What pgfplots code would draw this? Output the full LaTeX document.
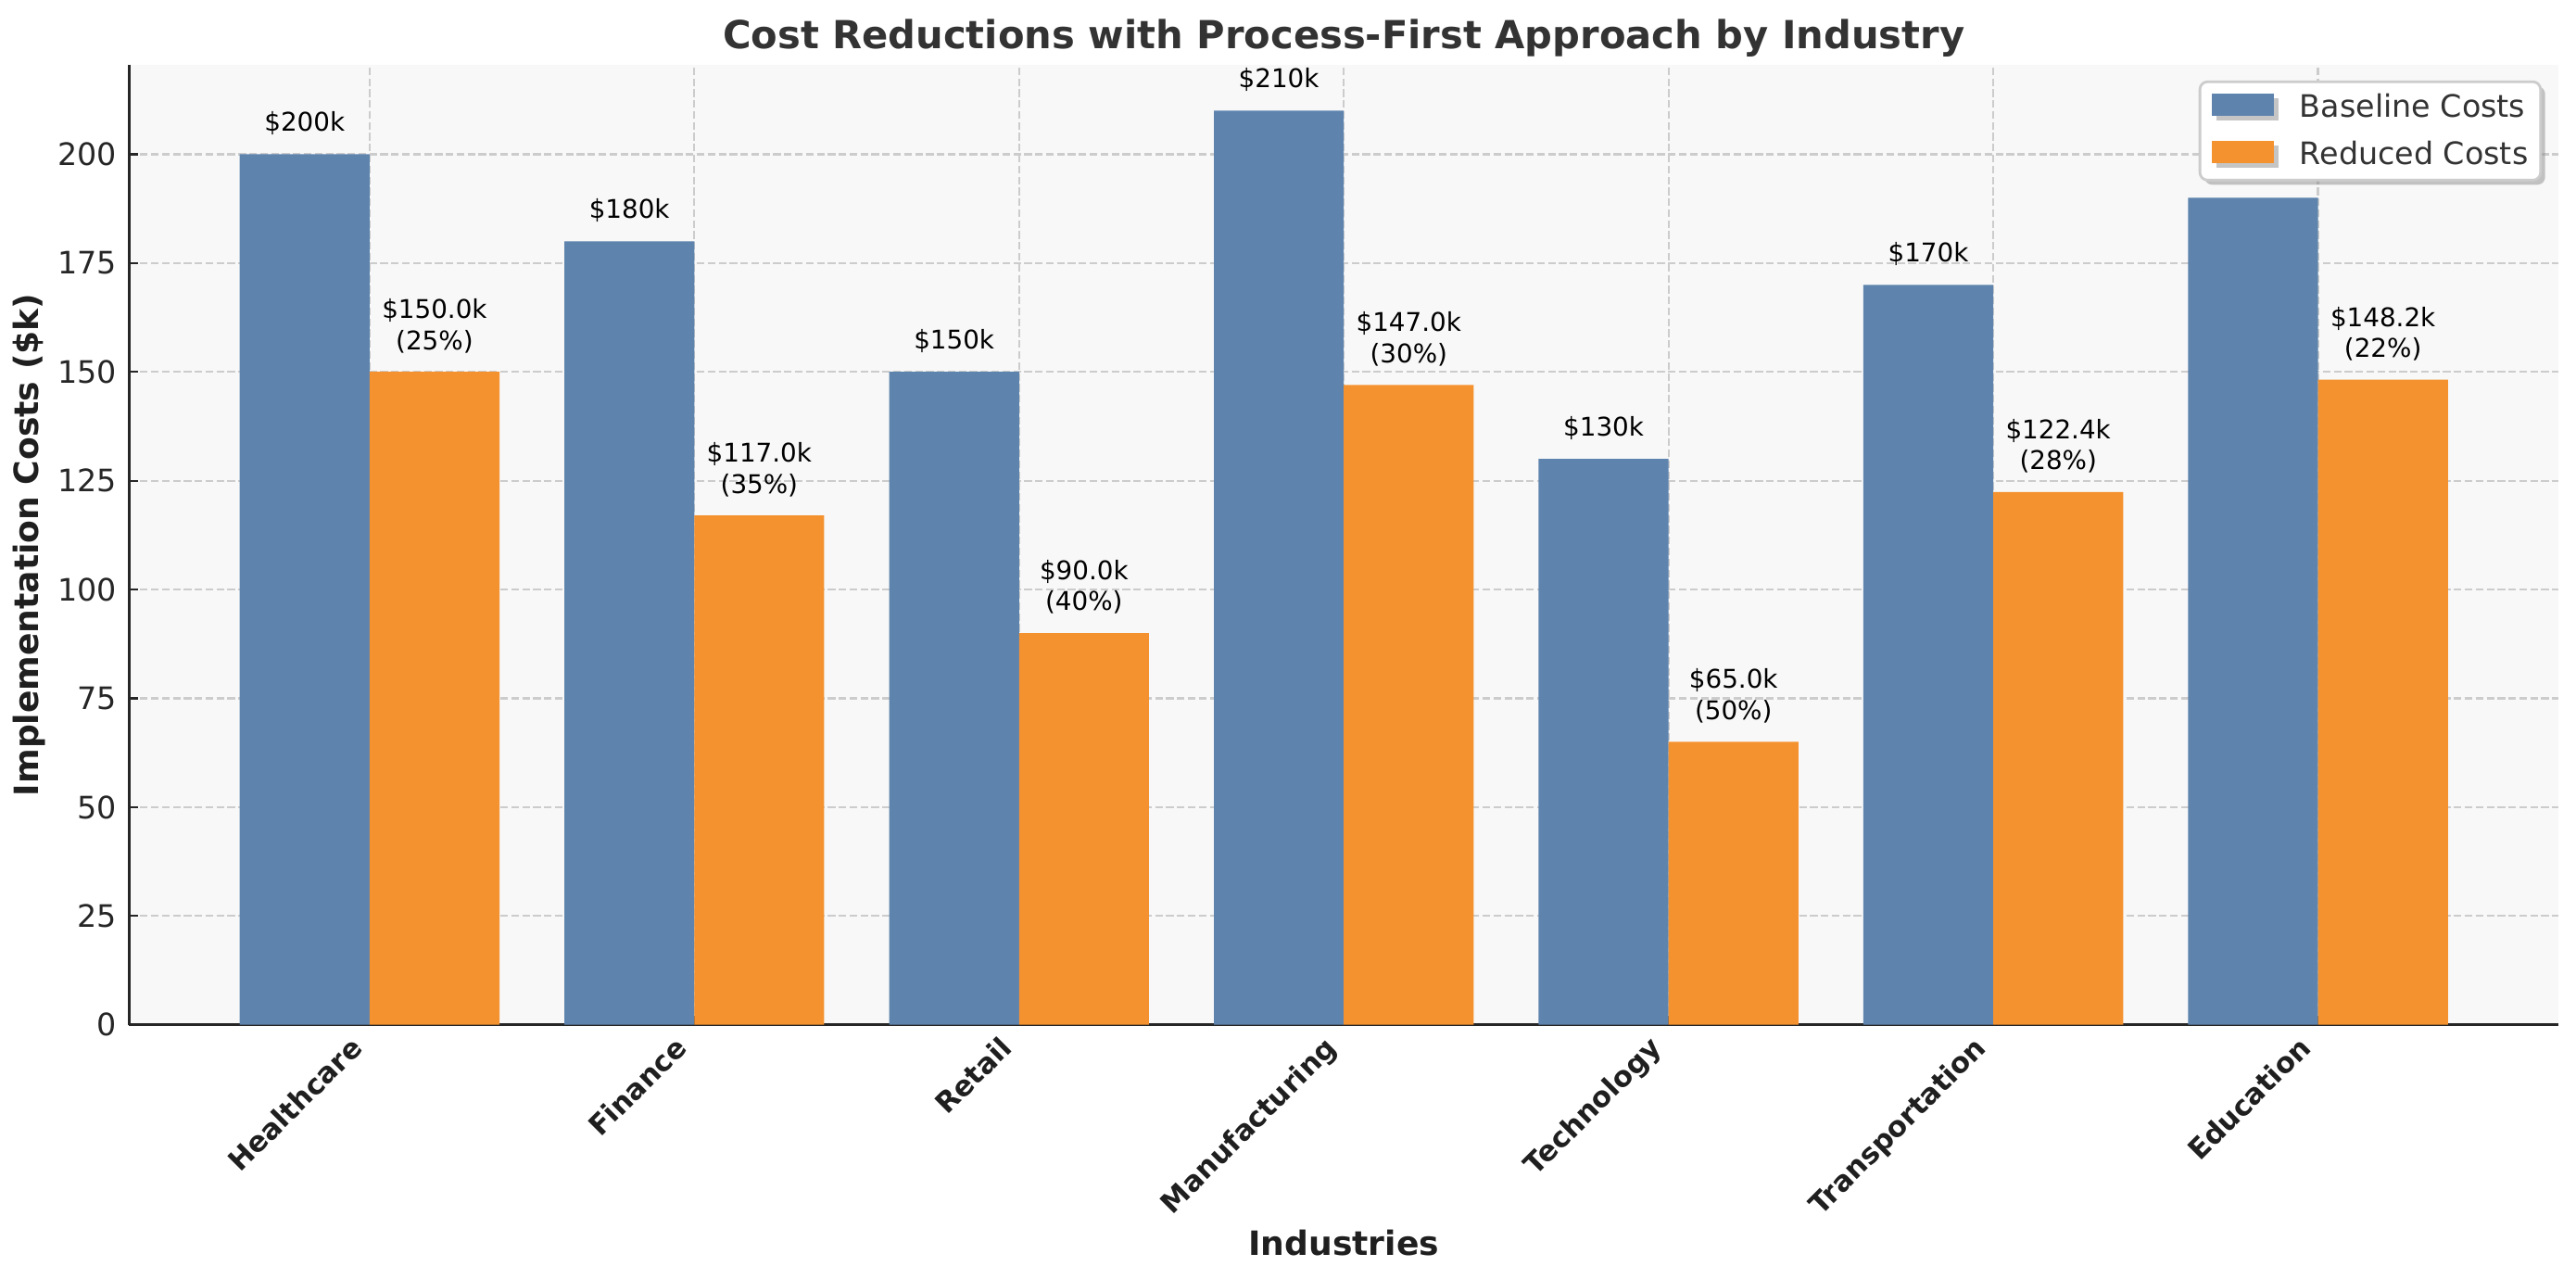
\documentclass[border=0pt]{standalone}
\usepackage{pgfplots}
\pgfplotsset{compat=1.18}
\usepackage{fontspec}
\setmainfont{DejaVu Sans}
\usetikzlibrary{shadows}
\definecolor{cblue}{HTML}{5E84AE}
\definecolor{corange}{HTML}{F59230}
\definecolor{bgc}{HTML}{F8F8F8}
\definecolor{gridc}{HTML}{CCCCCC}
\definecolor{spine}{HTML}{262626}
\definecolor{titlec}{HTML}{333333}
\definecolor{labc}{HTML}{1F1F1F}
\begin{document}
\begin{tikzpicture}
\begin{axis}[
  at={(50.22pt,98.74pt)}, anchor=south west,
  width=943.7pt, height=372.8pt, scale only axis,
  xmin=-0.74, xmax=6.74, ymin=0, ymax=220.5,
  enlargelimits=false,
  axis x line*=bottom, axis y line*=left,
  axis line style={spine, line width=0.9pt, -},
  axis background/.style={fill=bgc},
  xtick={0,1,2,3,4,5,6},
  xticklabels={Healthcare,Finance,Retail,Manufacturing,Technology,Transportation,Education},
  ytick={0,25,50,75,100,125,150,175,200},
  /pgf/number format/assume math mode=true,
  grid=major,
  major grid style={gridc, line width=0.8pt, dash pattern=on 2.96pt off 1.28pt},
  tick align=inside, major tick length=3.5pt,
  tick style={spine, line width=0.8pt},
  yticklabel style={font=\fontsize{12}{14}\selectfont, text=spine, anchor=east, inner sep=0pt, xshift=-4.6pt},
  xticklabel style={font=\fontsize{11}{13}\selectfont\bfseries, text=labc, inner sep=0pt, xshift=-2.05pt, yshift=-9.6pt, rotate=45, anchor=base east},
  title={Cost Reductions with Process-First Approach by Industry},
  title style={at={(axis description cs:0.5,1)}, anchor=base, yshift=0.2pt, font=\fontsize{15}{18}\selectfont\bfseries, text=titlec},
  xlabel={Industries},
  xlabel style={at={(axis description cs:0.5,0)}, anchor=base, yshift=-89.4pt, font=\fontsize{13}{15}\selectfont\bfseries, text=labc},
  ylabel={Implementation Costs (\$k)},
  ylabel style={at={([xshift=-35.2pt]axis description cs:0,0.5)}, anchor=base, font=\fontsize{13}{15}\selectfont\bfseries, text=labc},
  legend cell align=left,
  legend style={at={(1,1)}, anchor=north east, xshift=-6.4pt, yshift=-6pt,
    draw=gridc, line width=1pt, rounded corners=3pt, fill=white,
    drop shadow={shadow xshift=1.8pt, shadow yshift=-1.8pt, fill=black!45},
    font=\fontsize{12}{14}\selectfont, text=titlec,
    inner xsep=4.8pt, inner ysep=4.5pt, row sep=7.6pt,
    /tikz/every odd column/.append style={column sep=10.2pt},
    nodes={inner sep=0pt}},
  every node near coord/.append style={font=\fontsize{10}{12}\selectfont, text=black, anchor=south, inner sep=0pt, yshift=7.2pt, align=center},
  clip=false,
]
\addplot[ybar, fill=cblue, draw=none, bar width=0.4, bar shift=0pt,
  legend image code/.code={\fill[cblue, sharp corners] (0pt,-3.1pt) rectangle (23.8pt,5.5pt);},
  nodes near coords, point meta=explicit symbolic]
  coordinates {
  (-0.2,200) [\$200k]
  (0.8,180) [\$180k]
  (1.8,150) [\$150k]
  (2.8,210) [\$210k]
  (3.8,130) [\$130k]
  (4.8,170) [\$170k]
  (5.8,190) [\$190k]
  };
\addlegendentry{Baseline Costs}
\addplot[ybar, fill=corange, draw=none, bar width=0.4, bar shift=0pt,
  legend image code/.code={\fill[corange, sharp corners] (0pt,-3.1pt) rectangle (23.8pt,5.5pt);},
  nodes near coords, point meta=explicit symbolic]
  coordinates {
  (0.2,150.0) [{\$150.0k\\(25\%)}]
  (1.2,117.0) [{\$117.0k\\(35\%)}]
  (2.2,90.0) [{\$90.0k\\(40\%)}]
  (3.2,147.0) [{\$147.0k\\(30\%)}]
  (4.2,65.0) [{\$65.0k\\(50\%)}]
  (5.2,122.4) [{\$122.4k\\(28\%)}]
  (6.2,148.2) [{\$148.2k\\(22\%)}]
  };
\addlegendentry{Reduced Costs\rule[-5.2pt]{0pt}{0pt}}
\end{axis}
\pgfresetboundingbox
\path[use as bounding box] (0,0) rectangle (1000.8pt,496.8pt);
\end{tikzpicture}
\end{document}
